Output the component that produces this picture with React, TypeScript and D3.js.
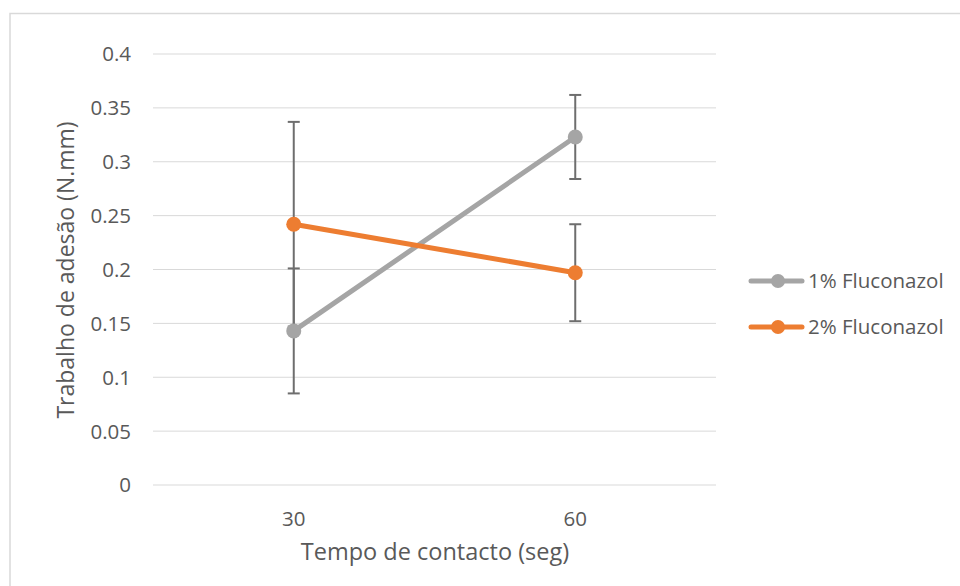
import { useEffect, useRef } from 'react'
import * as d3 from 'd3'

const categories = ['30', '60']
const seriesNames = ['1% Fluconazol', '2% Fluconazol']
const seriesColors = ['#a5a5a5', '#ed7d31']
const values1 = [0.143, 0.323]
const values2 = [0.242, 0.197]
const errors1 = [0.058, 0.039]
const errors2 = [0.095, 0.045]
const yTicks = [0, 0.05, 0.1, 0.15, 0.2, 0.25, 0.3, 0.35, 0.4]

const FONT = '"Open Sans", "Noto Sans", sans-serif'

export default function App() {
  const ref = useRef<SVGSVGElement>(null)

  useEffect(() => {
    const svg = d3.select(ref.current)
    svg.selectAll('*').remove()
    const width = 960
    const height = 586
    const left = 153, right = 716, top = 54, bottom = 485

    svg.append('rect').attr('width', width).attr('height', height).attr('fill', '#fff')
    // chart frame
    svg.append('path')
      .attr('d', `M10,${height} V13.5 H${width}`)
      .attr('fill', 'none')
      .attr('stroke', '#d9d9d9')
      .attr('stroke-width', 1.5)

    const x = d3.scaleBand().domain(categories).range([left, right])
    const y = d3.scaleLinear().domain([0, 0.4]).range([bottom, top])

    const grid = svg.append('g')
    grid.selectAll('line').data(yTicks).join('line')
      .attr('x1', left).attr('x2', right)
      .attr('y1', (d) => y(d)).attr('y2', (d) => y(d))
      .attr('stroke', '#d9d9d9').attr('stroke-width', 1)

    svg.append('g').selectAll('text').data(yTicks).join('text')
      .attr('x', 131).attr('y', (d) => y(d)).attr('dy', '0.36em')
      .attr('text-anchor', 'end')
      .attr('font-family', FONT).attr('font-size', 20.5).attr('fill', '#595959')
      .text((d) => d3.format('')(+d.toFixed(2)))

    svg.append('g').selectAll('text').data(categories).join('text')
      .attr('x', (d) => x(d)! + x.bandwidth() / 2).attr('y', 525.5)
      .attr('text-anchor', 'middle')
      .attr('font-family', FONT).attr('font-size', 20.5).attr('fill', '#595959')
      .text((d) => d)

    svg.append('text')
      .attr('x', 435).attr('y', 560)
      .attr('text-anchor', 'middle')
      .attr('font-family', FONT).attr('font-size', 23.5).attr('fill', '#595959')
      .text('Tempo de contacto (seg)')

    svg.append('text')
      .attr('transform', `translate(74,270) rotate(-90)`)
      .attr('text-anchor', 'middle')
      .attr('font-family', FONT).attr('font-size', 23).attr('fill', '#595959')
      .text('Trabalho de adesão (N.mm)')

    const cx = (i: number) => x(categories[i])! + x.bandwidth() / 2
    const allValues = [values1, values2]
    const allErrors = [errors1, errors2]

    // error bars
    allValues.forEach((vals, s) => {
      const g = svg.append('g')
      vals.forEach((v, i) => {
        const e = allErrors[s][i]
        const xx = cx(i)
        g.append('line').attr('x1', xx).attr('x2', xx)
          .attr('y1', y(v - e)).attr('y2', y(v + e))
          .attr('stroke', '#6e6e6e').attr('stroke-width', 2)
        ;[v - e, v + e].forEach((t) => {
          g.append('line').attr('x1', xx - 6).attr('x2', xx + 6)
            .attr('y1', y(t)).attr('y2', y(t))
            .attr('stroke', '#6e6e6e').attr('stroke-width', 2)
        })
      })
    })

    const line = d3.line<number>().x((_, i) => cx(i)).y((d) => y(d))
    allValues.forEach((vals, s) => {
      svg.append('path').attr('d', line(vals))
        .attr('fill', 'none').attr('stroke', seriesColors[s])
        .attr('stroke-width', 5).attr('stroke-linecap', 'round')
      svg.append('g').selectAll('circle').data(vals).join('circle')
        .attr('cx', (_, i) => cx(i)).attr('cy', (d) => y(d)).attr('r', 7.5)
        .attr('fill', seriesColors[s])
    })

    // legend
    const legend = svg.append('g')
    seriesNames.forEach((name, s) => {
      const ly = 281 + s * 46
      legend.append('line').attr('x1', 751).attr('x2', 802).attr('y1', ly).attr('y2', ly)
        .attr('stroke', seriesColors[s]).attr('stroke-width', 5).attr('stroke-linecap', 'round')
      legend.append('circle').attr('cx', 778).attr('cy', ly).attr('r', 7).attr('fill', seriesColors[s])
      legend.append('text').attr('x', 808).attr('y', ly).attr('dy', '0.36em')
        .attr('font-family', FONT).attr('font-size', 20.5).attr('fill', '#595959')
        .text(name)
    })
  }, [])

  return (
    <svg
      ref={ref}
      width={960}
      height={586}
      style={{ position: 'absolute', left: 0, top: 0, display: 'block' }}
    />
  )
}
